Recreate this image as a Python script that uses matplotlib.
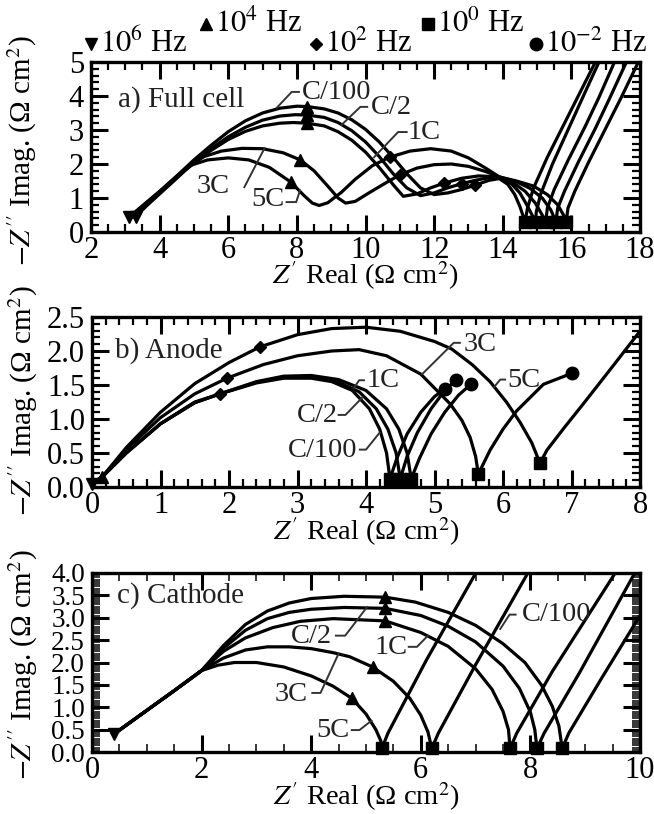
import matplotlib
matplotlib.use("Agg")
import matplotlib.pyplot as plt
from matplotlib.ticker import MultipleLocator
from matplotlib.lines import Line2D

plt.rcParams['font.family'] = ['Liberation Serif', 'DejaVu Serif', 'DejaVu Sans']
plt.rcParams['mathtext.fontset'] = 'stix'

RATES = ['C/100', 'C/2', '1C', '3C', '5C']

# ---- a) full cell: Nyquist curves (one list per rate)
A_X = [
    [3.12, 3.6, 4.0, 4.5, 5.0, 5.5, 6.0, 6.5, 7.0, 7.5, 8.0, 8.3, 8.8, 9.2, 9.6, 10.0, 10.4, 10.8, 11.2, 11.6, 12.0,
     12.4, 12.8, 13.2, 13.6, 13.9, 14.15, 14.35, 14.5, 14.6, 14.65, 14.72, 14.9, 15.3, 15.8, 16.3, 16.75],
    [3.18, 3.6, 4.0, 4.5, 5.0, 5.5, 6.0, 6.5, 7.0, 7.5, 7.95, 8.3, 8.8, 9.2, 9.6, 10.0, 10.4, 10.8, 11.2, 11.6, 12.0,
     12.4, 12.8, 13.2, 13.6, 13.9, 14.25, 14.5, 14.7, 14.88, 14.95, 14.98, 15.1, 15.45, 15.9, 16.35, 16.85],
    [3.22, 3.6, 4.0, 4.5, 5.0, 5.5, 6.0, 6.5, 7.0, 7.5, 7.9, 8.3, 8.8, 9.2, 9.6, 10.0, 10.4, 10.8, 11.1, 11.5, 11.9,
     12.3, 12.8, 13.3, 13.9, 14.3, 14.65, 14.95, 15.15, 15.25, 15.3, 15.5, 15.9, 16.4, 16.8, 17.3],
    [3.26, 3.6, 4.0, 4.5, 4.9, 5.3, 5.8, 6.4, 7.0, 7.6, 8.1, 8.5, 8.9, 9.2, 9.42, 9.7, 10.1, 10.6, 11.0, 11.5, 12.0,
     12.5, 13.0, 13.5, 13.9, 14.4, 14.8, 15.15, 15.4, 15.55, 15.6, 15.8, 16.2, 16.7, 17.1, 17.65],
    [3.3, 3.6, 4.0, 4.5, 4.9, 5.4, 6.0, 6.6, 7.2, 7.82, 8.2, 8.45, 8.65, 8.9, 9.3, 9.7, 10.2, 10.7, 11.3, 11.9,
     12.5, 13.0, 13.5, 13.9, 14.4, 14.9, 15.3, 15.6, 15.8, 15.85, 15.9, 16.1, 16.5, 17.0, 17.45, 18.0],
]
A_Y = [
    [0.45, 0.86, 1.2, 1.65, 2.12, 2.55, 2.95, 3.27, 3.5, 3.64, 3.7, 3.69, 3.62, 3.5, 3.3, 3.02, 2.65, 2.2, 1.72, 1.3, 1.1,
     1.15, 1.25, 1.38, 1.52, 1.57, 1.4, 1.1, 0.75, 0.45, 0.3, 0.7, 1.3, 2.2, 3.2, 4.2, 5.1],
    [0.45, 0.83, 1.18, 1.63, 2.05, 2.45, 2.8, 3.08, 3.29, 3.41, 3.45, 3.44, 3.37, 3.22, 2.98, 2.65, 2.22, 1.72, 1.3,
     1.07, 1.15, 1.3, 1.42, 1.52, 1.6, 1.6, 1.42, 1.15, 0.8, 0.45, 0.3, 0.6, 1.1, 2.0, 3.0, 4.0, 5.1],
    [0.45, 0.8, 1.17, 1.62, 2.02, 2.4, 2.72, 2.96, 3.12, 3.2, 3.22, 3.2, 3.12, 2.95, 2.7, 2.35, 1.9, 1.4, 1.05, 1.12,
     1.3, 1.44, 1.58, 1.65, 1.62, 1.45, 1.2, 0.85, 0.5, 0.3, 0.7, 1.25, 2.1, 3.1, 3.95, 5.1],
    [0.45, 0.78, 1.15, 1.6, 1.98, 2.22, 2.38, 2.46, 2.45, 2.33, 2.12, 1.8, 1.35, 1.0, 0.85, 0.9, 1.15, 1.45, 1.68, 1.88,
     1.98, 2.0, 1.93, 1.78, 1.62, 1.48, 1.28, 1.0, 0.65, 0.3, 0.7, 1.2, 2.05, 3.05, 3.9, 5.1],
    [0.45, 0.75, 1.12, 1.58, 1.96, 2.12, 2.18, 2.12, 1.9, 1.47, 1.08, 0.85, 0.78, 0.86, 1.17, 1.55, 1.95, 2.2, 2.38,
     2.45, 2.38, 2.18, 1.88, 1.62, 1.5, 1.35, 1.1, 0.8, 0.45, 0.3, 0.7, 1.2, 2.05, 3.05, 3.95, 5.1],
]
A_F6 = [(3.12, 0.45), (3.3, 0.45)]
A_F4 = [(8.3, 3.69), (8.3, 3.44), (8.3, 3.2), (8.1, 2.12), (7.82, 1.47)]
A_F2 = [(13.2, 1.38), (12.8, 1.42), (12.3, 1.44), (11.0, 1.68), (10.7, 2.2)]
A_F0 = [(14.65, 0.3), (14.95, 0.3), (15.25, 0.3), (15.55, 0.3), (15.85, 0.3)]
A_FM2 = []

# ---- b) anode
B_X = [
    [0.0, 0.15, 0.5, 1.0, 1.5, 1.87, 2.4, 2.8, 3.2, 3.5, 3.8, 4.05, 4.2, 4.3, 4.35, 4.45, 4.6, 4.8, 5.0, 5.15],
    [0.0, 0.15, 0.5, 1.0, 1.5, 1.87, 2.4, 2.8, 3.2, 3.6, 3.9, 4.15, 4.32, 4.44, 4.5, 4.6, 4.75, 4.95, 5.15, 5.31],
    [0.0, 0.15, 0.5, 1.0, 1.5, 1.87, 2.4, 2.8, 3.2, 3.6, 4.0, 4.3, 4.48, 4.6, 4.66, 4.78, 4.95, 5.15, 5.35, 5.53],
    [0.0, 0.15, 0.5, 1.0, 1.5, 1.97, 2.5, 3.0, 3.5, 3.9, 4.3, 4.8, 5.23, 5.4, 5.52, 5.6, 5.64, 5.81, 6.0, 6.2, 6.59,
     7.0],
    [0.0, 0.15, 0.5, 1.0, 1.5, 2.0, 2.45, 3.0, 3.5, 4.0, 4.5, 5.0, 5.25, 5.55, 5.81, 6.05, 6.25, 6.42, 6.54, 6.64,
     6.9, 7.17, 7.66, 7.96, 8.2],
]
B_Y = [
    [0.05, 0.15, 0.5, 0.93, 1.24, 1.37, 1.53, 1.6, 1.6, 1.55, 1.42, 1.15, 0.85, 0.5, 0.12, 0.42, 0.78, 1.1, 1.33, 1.44],
    [0.05, 0.15, 0.5, 0.93, 1.24, 1.37, 1.54, 1.62, 1.62, 1.54, 1.4, 1.15, 0.85, 0.5, 0.12, 0.45, 0.8, 1.15, 1.42,
     1.57],
    [0.05, 0.15, 0.5, 0.93, 1.25, 1.37, 1.55, 1.63, 1.64, 1.58, 1.42, 1.15, 0.85, 0.5, 0.12, 0.42, 0.78, 1.1, 1.35,
     1.51],
    [0.05, 0.15, 0.55, 1.02, 1.37, 1.6, 1.8, 1.93, 2.0, 2.02, 1.93, 1.66, 1.22, 0.98, 0.73, 0.45, 0.19, 0.54, 0.85,
     1.12, 1.51, 1.67],
    [0.05, 0.15, 0.58, 1.1, 1.52, 1.83, 2.06, 2.24, 2.33, 2.35, 2.29, 2.14, 2.03, 1.8, 1.55, 1.25, 0.95, 0.65, 0.35,
     0.54, 0.88, 1.22, 1.85, 2.24, 2.55],
]
B_F6 = [(0.0, 0.05)]
B_F4 = [(0.15, 0.15)]
B_F2 = [(1.87, 1.37), (1.97, 1.6), (2.45, 2.06)]
B_F0 = [(4.35, 0.12), (4.5, 0.12), (4.66, 0.12), (5.64, 0.19), (6.54, 0.35)]
B_FM2 = [(5.15, 1.44), (5.31, 1.57), (5.53, 1.51), (7.0, 1.67)]

# ---- c) cathode
C_X = [
    [0.4, 1.0, 1.5, 2.0, 2.4, 2.8, 3.2, 3.6, 4.0, 4.6, 5.35, 5.9, 6.5, 7.0, 7.5, 7.9, 8.2, 8.4, 8.52, 8.58, 8.7, 9.3,
     10.15],
    [0.4, 1.0, 1.5, 2.0, 2.4, 2.8, 3.2, 3.6, 4.0, 4.6, 5.35, 6.0, 6.5, 7.0, 7.5, 7.8, 8.0, 8.08, 8.12, 8.25, 8.9,
     9.95],
    [0.4, 1.0, 1.5, 2.0, 2.4, 2.8, 3.3, 3.8, 4.4, 5.35, 6.0, 6.5, 7.0, 7.3, 7.5, 7.6, 7.63, 7.75, 8.4, 9.6],
    [0.4, 1.0, 1.5, 2.0, 2.4, 2.8, 3.2, 3.6, 4.0, 4.4, 4.7, 5.12, 5.5, 5.8, 6.0, 6.13, 6.2, 6.32, 7.0, 8.0],
    [0.4, 1.0, 1.5, 2.0, 2.3, 2.6, 3.0, 3.5, 4.0, 4.4, 4.74, 5.0, 5.18, 5.27, 5.29, 5.4, 6.1, 7.05],
]
C_Y = [
    [0.4, 0.93, 1.37, 1.82, 2.38, 2.85, 3.15, 3.33, 3.43, 3.48, 3.46, 3.35, 3.12, 2.83, 2.42, 2.0, 1.5, 1.02, 0.58, 0.08,
     0.42, 1.65, 3.35],
    [0.4, 0.93, 1.37, 1.82, 2.32, 2.72, 2.98, 3.12, 3.19, 3.23, 3.21, 3.05, 2.81, 2.46, 1.92, 1.42, 0.89, 0.5, 0.08,
     0.42, 1.78, 4.1],
    [0.4, 0.93, 1.37, 1.82, 2.25, 2.55, 2.78, 2.92, 2.98, 2.93, 2.67, 2.36, 1.86, 1.4, 0.91, 0.5, 0.08, 0.42, 1.8, 4.1],
    [0.4, 0.93, 1.37, 1.82, 2.1, 2.28, 2.35, 2.35, 2.31, 2.22, 2.13, 1.9, 1.58, 1.2, 0.82, 0.45, 0.08, 0.42, 1.95, 4.1],
    [0.4, 0.93, 1.37, 1.82, 1.94, 2.0, 2.0, 1.9, 1.7, 1.47, 1.2, 0.85, 0.5, 0.25, 0.08, 0.42, 2.05, 4.1],
]
C_F6 = [(0.4, 0.4)]
C_F4 = [(5.35, 3.46), (5.35, 3.21), (5.35, 2.93), (5.12, 1.9), (4.74, 1.2)]
C_F2 = []
C_F0 = [(8.58, 0.08), (8.12, 0.08), (7.63, 0.08), (6.2, 0.08), (5.29, 0.08)]
C_FM2 = []

# curve labels and their leader lines
A_NOTES = [('C/100', 9.15, 4.09), ('C/2', 10.75, 3.67), ('1C', 11.72, 2.93), ('3C', 5.55, 1.33), ('5C', 7.15, 0.95)]
A_LEADERS = [[(8.06, 4.12), (7.85, 4.12), (7.41, 3.65)], [(10.05, 3.68), (9.85, 3.68), (9.3, 3.15)],
             [(11.2, 2.94), (10.95, 2.94), (10.25, 2.2)], [(6.47, 1.32), (7.06, 2.47)],
             [(7.7, 0.88), (7.98, 0.88), (8.09, 1.22)]]
B_NOTES = [('1C', 4.25, 1.56), ('C/2', 3.29, 1.05), ('C/100', 3.36, 0.54), ('3C', 5.66, 2.1), ('5C', 6.3, 1.57)]
B_LEADERS = [[(3.97, 1.57), (3.9, 1.57), (3.82, 1.45)], [(3.6, 1.06), (3.7, 1.06), (3.95, 1.32)],
             [(3.91, 0.55), (4.0, 0.55), (4.2, 0.8)], [(5.37, 2.12), (5.28, 2.12), (4.82, 1.66)],
             [(6.03, 1.58), (5.96, 1.58), (5.87, 1.47)]]
C_NOTES = [('C/2', 4.0, 2.59), ('1C', 5.45, 2.34), ('3C', 3.64, 1.28), ('5C', 4.4, 0.47), ('C/100', 8.47, 3.07)]
C_LEADERS = [[(4.45, 2.6), (4.62, 2.6), (5.02, 3.24)], [(5.78, 2.35), (5.93, 2.35), (6.13, 2.6)],
             [(4.02, 1.32), (4.17, 1.32), (4.5, 2.2)], [(4.74, 0.49), (4.88, 0.49), (5.1, 0.7)],
             [(7.73, 3.07), (7.62, 3.07), (7.45, 2.75)]]

LEGEND_MARKERS = ['v', '^', 'D', 's', 'o']
LEGEND_LABELS = ['$10^{6}$ Hz', '$10^{4}$ Hz', '$10^{2}$ Hz', '$10^{0}$ Hz', '$10^{-2}$ Hz']

W, H = 654, 814
fig = plt.figure(figsize=(W / 100, H / 100), dpi=100)


def px_box(left, top, right, bottom):
    return [left / W, 1 - bottom / H, (right - left) / W, (bottom - top) / H]


ax_a = fig.add_axes(px_box(91, 62, 640, 232))
ax_b = fig.add_axes(px_box(92, 317, 640, 487))
ax_c = fig.add_axes(px_box(92, 573, 640, 752))

MARK_STYLE = {'F6': ('v', 9), 'F4': ('^', 9), 'F2': ('D', 6.5), 'F0': ('s', 8.5), 'FM2': ('o', 9)}
LABEL_FS = 20.5


def draw_panel(ax, xs, ys, marks, notes, leaders, title, title_xy):
    for x, y in zip(xs, ys):
        ax.plot(x, y, color='black', lw=2.3, solid_joinstyle='round', zorder=2)
    for key, pts in marks.items():
        if not pts:
            continue
        m, ms = MARK_STYLE[key]
        ax.plot([p[0] for p in pts], [p[1] for p in pts], ls='none', marker=m, ms=ms,
                color='black', zorder=4, clip_on=False)
    for (txt, tx, ty), line in zip(notes, leaders):
        ax.text(tx, ty, txt, fontsize=LABEL_FS, color='#222222', ha='center', va='center', zorder=5)
        ax.plot([p[0] for p in line], [p[1] for p in line], color='#333333', lw=1.4, zorder=5)
    ax.text(title_xy[0], title_xy[1], title, fontsize=21, color='#222222', ha='left', va='center')


def style_axes(ax, xlim, ylim, xmaj, xmin, ymaj, ymin, xlab_y, ylab_y):
    ax.set_xlim(*xlim)
    ax.set_ylim(*ylim)
    ax.xaxis.set_major_locator(MultipleLocator(xmaj))
    ax.xaxis.set_minor_locator(MultipleLocator(xmin))
    ax.yaxis.set_major_locator(MultipleLocator(ymaj))
    ax.yaxis.set_minor_locator(MultipleLocator(ymin))
    ax.tick_params(which='both', direction='in', top=True, right=True, labelsize=22)
    ax.tick_params(axis='x', pad=3)
    ax.tick_params(axis='y', pad=5)
    ax.tick_params(which='major', length=12, width=2.2)
    ax.tick_params(which='minor', length=6, width=1.6)
    for s in ax.spines.values():
        s.set_linewidth(2.4)
    ax.set_xlabel("$Z'$ Real (\u03a9 cm$^{2}$)", fontsize=20.5)
    ax.xaxis.label.set_va('center')
    ax.xaxis.set_label_coords(0.5, xlab_y)
    ax.set_ylabel("$-Z''$ Imag. (\u03a9 cm$^{2}$)", fontsize=21)
    ax.yaxis.label.set_va('center')
    ax.yaxis.set_label_coords(-0.125, ylab_y)


draw_panel(ax_a, A_X, A_Y, {'F6': A_F6, 'F4': A_F4, 'F2': A_F2, 'F0': A_F0, 'FM2': A_FM2},
           A_NOTES, A_LEADERS, 'a) Full cell', (2.79, 3.91))
style_axes(ax_a, (2, 18), (0, 5), 2, 0.5, 1, 0.2, -0.255, 0.48)

draw_panel(ax_b, B_X, B_Y, {'F6': B_F6, 'F4': B_F4, 'F2': B_F2, 'F0': B_F0, 'FM2': B_FM2},
           B_NOTES, B_LEADERS, 'b) Anode', (0.33, 2.0))
style_axes(ax_b, (0, 8), (0, 2.5), 1, 0.2, 0.5, 0.1, -0.26, 0.51)

draw_panel(ax_c, C_X, C_Y, {'F6': C_F6, 'F4': C_F4, 'F2': C_F2, 'F0': C_F0, 'FM2': C_FM2},
           C_NOTES, C_LEADERS, 'c) Cathode', (0.45, 3.5))
style_axes(ax_c, (0, 10), (0, 4), 2, 0.5, 0.5, 0.05, -0.25, 0.49)
ax_c.tick_params(which='minor', width=1.1)
# the 0.5-step labels sit tightly stacked here, as in the source figure
ax_c.tick_params(axis='y', labelsize=19.5)

# frequency key above the top panel (staggered in two rows)
key_x = [91, 206, 316, 428, 536]
key_base = [52, 32, 52, 32, 52]
for m, lab, x, yb in zip(LEGEND_MARKERS, LEGEND_LABELS, key_x, key_base):
    fig.add_artist(Line2D([x / W], [1 - (yb - 8) / H], transform=fig.transFigure, marker=m,
                          ms=MARK_STYLE[{'v': 'F6', '^': 'F4', 'D': 'F2', 's': 'F0', 'o': 'FM2'}[m]][1],
                          color='black', ls='none'))
    fig.text((x + 9) / W, 1 - yb / H, lab, fontsize=22, ha='left', va='baseline')

fig.savefig('out.png', dpi=100)
